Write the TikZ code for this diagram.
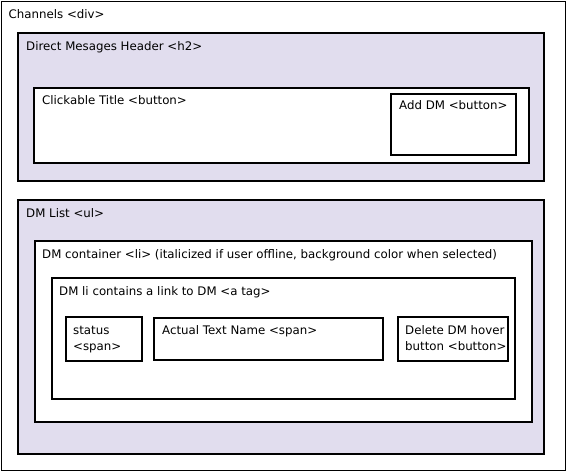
\documentclass[tikz,border=0pt]{standalone}
\usepackage{fontspec}
\setmainfont{DejaVu Sans}
\definecolor{lav}{RGB}{225,221,238}
\begin{document}
\begin{tikzpicture}[x=1pt,y=-1pt,
  box/.style={draw=black,line width=1.8pt,anchor=north west,inner sep=0pt,outer sep=0pt},
  wbox/.style={box,fill=white},
  lbox/.style={box,fill=lav},
  lbl/.style={anchor=base west,inner sep=0pt,font=\fontsize{11.8}{16}\selectfont,align=left}]
\useasboundingbox (0,0) rectangle (567,473);
\fill[white] (0,0) rectangle (567,473);
\node[wbox,minimum width=564pt,minimum height=469pt] (chan) at (1.5,1.5) {};
\node[lbox,minimum width=526pt,minimum height=148pt] (hdr) at (18,33) {};
\node[wbox,minimum width=495pt,minimum height=75pt] (title) at (34,88) {};
\node[wbox,minimum width=125pt,minimum height=61pt] (add) at (391,94) {};
\node[lbox,minimum width=526pt,minimum height=254pt] (list) at (18,200) {};
\node[wbox,minimum width=497pt,minimum height=181pt] (li) at (35,241) {};
\node[wbox,minimum width=463pt,minimum height=121pt] (atag) at (52,278) {};
\node[wbox,minimum width=76pt,minimum height=44pt] (status) at (66,317) {};
\node[wbox,minimum width=229pt,minimum height=42pt] (name) at (154,318) {};
\node[wbox,minimum width=110pt,minimum height=44pt] (del) at (398,317) {};

\node[lbl] (t1) at ([shift={(7,17.5)}]chan.north west) {Channels <div>};
\node[lbl] (t2) at ([shift={(8,18)}]hdr.north west) {Direct Mesages Header <h2>};
\node[lbl] (t3) at ([shift={(8,17)}]title.north west) {Clickable Title <button>};
\node[lbl] (t4) at ([shift={(8,16)}]add.north west) {Add DM <button>};
\node[lbl] (t5) at ([shift={(8,17)}]list.north west) {DM List <ul>};
\node[lbl] (t6) at ([shift={(7,17)}]li.north west) {DM container <li> (italicized if user offline, background color when selected)};
\node[lbl] (t7) at ([shift={(7,17)}]atag.north west) {DM li contains a link to DM <a tag>};
\node[lbl] (t8) at ([shift={(7,17)}]status.north west) {status};
\node[lbl] (t8b) at ([shift={(7,33)}]status.north west) {<span>};
\node[lbl] (t9) at ([shift={(8,16)}]name.north west) {Actual Text Name <span>};
\node[lbl] (t10) at ([shift={(7,17)}]del.north west) {Delete DM hover};
\node[lbl] (t10b) at ([shift={(7,33)}]del.north west) {button <button>};
\end{tikzpicture}
\end{document}
